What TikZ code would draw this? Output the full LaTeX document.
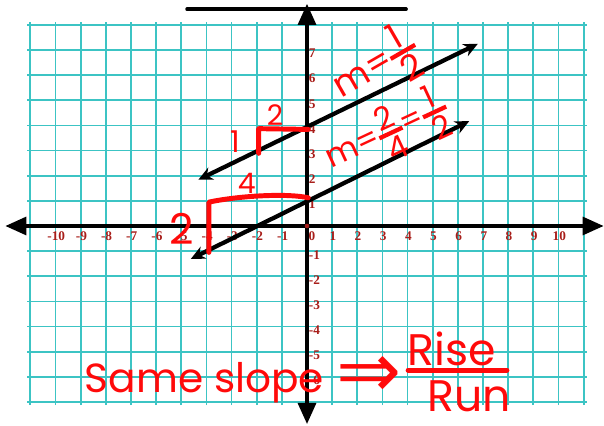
\documentclass[tikz,border=0pt]{standalone}
\usepackage{fontspec}
\newfontfamily\handfont{Poppins}
\newfontfamily\numfont{Liberation Serif}
\newfontfamily\symfont{DejaVu Sans}
\usepackage{xcolor}
\definecolor{color1}{HTML}{3CC4C4}
\definecolor{color2}{HTML}{A81E1A}
\definecolor{color3}{HTML}{FF0A0A}
\usepackage{tikz}
\usetikzlibrary{arrows.meta, positioning, calc}
\tikzset{%
    gridline/.style={%
        draw=color1, line width=1pt
    },
    axisline/.style={%
        draw=black, line width=2.3pt, {Triangle[length=12pt, width=10pt]}-{Triangle[length=12pt, width=10pt]}
    },
    graphline/.style={%
        draw=black, line width=2.4pt, {Stealth[length=8pt, width=7.5pt]}-{Stealth[length=8pt, width=7.5pt]}
    },
    ink/.style={%
        draw=color3, line width=2.8pt, line cap=round, line join=round
    },
    inklabel/.style={%
        color=color3, font={\handfont\fontsize{#1}{#1}\selectfont}, inner sep=0
    },
    xnum/.style={%
        color=color2, font={\numfont\bfseries\fontsize{7.5}{7.5}\selectfont}, anchor=north, inner sep=0
    },
    ynum/.style={%
        color=color2, font={\numfont\bfseries\fontsize{7.5}{7.5}\selectfont}, anchor=west, inner sep=0
    },
}
\newcommand{\handfrac}[2]{$\vcenter{\offinterlineskip\hbox to 0.8em{\hss#1\hss}\kern1.5pt\hrule height 2.4pt\kern1.5pt\hbox to 0.8em{\hss#2\hss}}$}

\begin{document}
\begin{tikzpicture}[x=0.5cm, y=0.5cm]
    \useasboundingbox (-12.207,-7.913) rectangle (11.809,8.986);

    % grid
    \foreach \gx in {-11,...,11}
        \draw[gridline] (\gx,-7.12) -- (\gx,8.12);
    \foreach \gy in {-7,...,8}
        \draw[gridline] (-11.12,\gy) -- (11.12,\gy);

    \draw[line width=2pt, line cap=round] (-4.77,8.62) -- (3.94,8.62);

    % axes
    \coordinate (xl) at (-12.0,0);
    \coordinate (xr) at (11.8,0);
    \coordinate (yb) at (0,-7.88);
    \coordinate (yt) at (0,8.84);
    \draw[axisline] (xl) -- (xr);
    \draw[axisline] (yb) -- (yt);

    \foreach \gx in {-10,...,-1,1,2,...,10}
        \node[xnum] (xn\gx) at (\gx+0.03,-0.2) {\gx};
    \node[xnum] (xn0) at (0.2,-0.2) {0};
    \foreach \gy in {-6,...,-1,1,2,...,7}
        \node[ynum] (yn\gy) at (0.06,\gy-0.14) {\gy};
    \fill[color2] (0,0) circle (1.3pt);

    % parallel lines
    \coordinate (a1) at (-4.32,1.84);
    \coordinate (a2) at (6.79,7.24);
    \coordinate (b1) at (-4.62,-1.31);
    \coordinate (b2) at (6.45,4.17);
    \draw[graphline] (a1) -- (a2);
    \draw[graphline] (b1) -- (b2);

    % rise and run
    \draw[ink] (-1.92,2.89) -- (-1.92,3.87) -- (0.05,3.84);
    \draw[ink] (-3.9,-1.05) -- (-3.9,0.95) .. controls (-2.6,1.22) and (-0.7,1.3) .. (0.05,1.12);
    \node[inklabel=17] (rise1) at (-2.86,3.35) {1};
    \node[inklabel=16] (run1) at (-1.27,4.41) {2};
    \node[inklabel=16] (run2) at (-2.4,1.71) {4};
    \node[inklabel=24] (rise2) at (-4.99,-0.12) {2};

    \node[inklabel=20, rotate=30] (slope1) at (2.75,6.3) {m=\handfrac{1}{2}};
    \node[inklabel=18, rotate=25] (slope2) at (3.2,3.65) {m=\handfrac{2}{4}=\handfrac{1}{2}};

    \node[inklabel=23, anchor=base] (same) at (-4.08,-6.64) {Same slope};
    \node[inklabel=44] (imp) at (2.47,-6.0) {\symfont ⇒};
    \node[inklabel=25, anchor=base] (rise) at (5.74,-5.55) {Rise};
    \node[inklabel=25, anchor=base] (run) at (6.46,-7.38) {Run};
    \coordinate (barl) at (4.02,-5.73);
    \coordinate (barr) at (7.95,-5.73);
    \draw[ink] (barl) -- (barr);
\end{tikzpicture}
\end{document}
